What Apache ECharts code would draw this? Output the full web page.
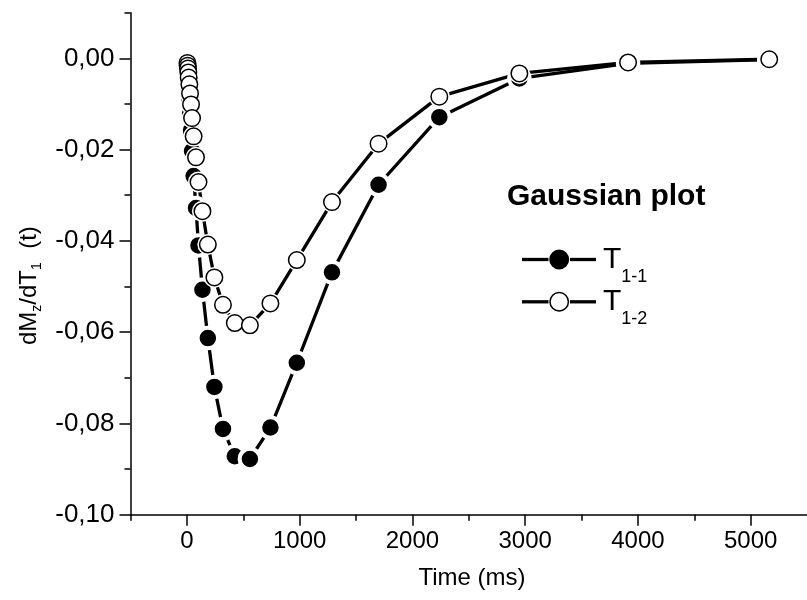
<!DOCTYPE html>
<html><head><meta charset="utf-8">
<script src="https://cdn.jsdelivr.net/npm/echarts@6/dist/echarts.min.js"></script>
<style>html,body{margin:0;padding:0;background:#fff}#c{width:807px;height:600px}</style>
</head><body><div id="c"></div>
<script>
// ---- data ----
const timeMs = [5, 7, 10, 13, 16, 22, 28, 37, 46, 60, 81, 103, 138, 186, 244, 320, 425, 559, 741, 975, 1287, 1700, 2239, 2949, 3913, 5165];
const t11 = [-0.0020, -0.0030, -0.0039, -0.0052, -0.0069, -0.0091, -0.0121, -0.0158, -0.0203, -0.0258, -0.0328, -0.0410, -0.0507, -0.0613, -0.0720, -0.0812, -0.0872, -0.0878, -0.0809, -0.0667, -0.0469, -0.0277, -0.0129, -0.0044, -0.0011, -0.0003];
const t12 = [-0.0010, -0.0016, -0.0022, -0.0031, -0.0042, -0.0057, -0.0077, -0.0101, -0.0131, -0.0171, -0.0217, -0.0271, -0.0335, -0.0408, -0.0480, -0.0540, -0.0580, -0.0585, -0.0537, -0.0442, -0.0315, -0.0187, -0.0084, -0.0033, -0.0009, -0.0002];
const xMajorTicks = [0, 1000, 2000, 3000, 4000, 5000];
const xMinorTicks = [-500, 500, 1500, 2500, 3500, 4500];
const yMajorTicks = [-0.10, -0.08, -0.06, -0.04, -0.02, 0.00];
const yMinorTicks = [-0.09, -0.07, -0.05, -0.03, -0.01, 0.01];
const legendTitle = 'Gaussian plot';
const xTitle = 'Time (ms)';

// ---- helpers ----
const FAMILY = "'Liberation Sans', Arial, sans-serif";
const cv = document.createElement('canvas').getContext('2d');
function W(text, size, weight) { cv.font = (weight || 'normal') + ' ' + size + 'px ' + FAMILY; return cv.measureText(text).width; }
function txt(text, x, baseline, size, weight, align) {
  return { type: 'text', x: x, y: baseline - 0.3465 * size, silent: true,
    style: { text: text, fill: '#000', fontSize: size, fontFamily: FAMILY, fontWeight: weight || 'normal',
      align: align || 'left', verticalAlign: 'middle', textAlign: align || 'left', textVerticalAlign: 'middle' } };
}
// pieces: [text, size, baselineShift]
function pieces(list, x0, baseline) {
  const out = []; let x = x0;
  list.forEach(p => { out.push(txt(p[0], x, baseline + p[2], p[1])); x += W(p[0], p[1]); });
  return out;
}
function fmtY(v) { const s = Math.abs(v) < 1e-9 ? '0.00' : v.toFixed(2); return s.replace('.', ','); }
function fmtX(v) { return String(Math.round(v)); }

const dataT11 = timeMs.map((t, i) => [t, t11[i]]);
const dataT12 = timeMs.map((t, i) => [t, t12[i]]);

const chart = echarts.init(document.getElementById('c'), null, { renderer: 'canvas' });

const X0 = -500, X1 = 5500, Y0 = -0.10, Y1 = 0.01;
const axisLine = { show: true, onZero: false, lineStyle: { color: '#000', width: 1.5 } };
const hiddenLine = { show: false, onZero: false };

// legend pieces
const legRows = [{ y: 259.5, filled: true, sub: '1-1' }, { y: 301.8, filled: false, sub: '1-2' }];
const legendEls = [];
legRows.forEach(r => {
  legendEls.push({ type: 'line', silent: true, shape: { x1: 522, y1: r.y, x2: 548.5, y2: r.y }, style: { stroke: '#000', lineWidth: 3.3 } });
  legendEls.push({ type: 'line', silent: true, shape: { x1: 570, y1: r.y, x2: 596, y2: r.y }, style: { stroke: '#000', lineWidth: 3.3 } });
  legendEls.push({ type: 'circle', silent: true, shape: { cx: 559.2, cy: r.y, r: 9.2 },
    style: { fill: r.filled ? '#000' : '#fff', stroke: '#000', lineWidth: 1.5 } });
  pieces([['T', 30, 0], [r.sub, 18, 13.3]], 603, r.y + 10.5).forEach(e => legendEls.push(e));
});
legendEls.push(txt(legendTitle, 507, 206.7, 30, 'bold'));

// y-axis title (rotated group)
const yTitleChildren = pieces([['dM', 24, 0], ['z', 14, 4.5], ['/dT', 24, 0], ['1', 14, 4.5], ['  (t)', 24, 0]], 0, 0);

const lineCommon = { type: 'line', xAxisIndex: 0, yAxisIndex: 0, symbol: 'none', silent: true, lineStyle: { color: '#000', width: 3.3 } };
const scatterCommon = { type: 'scatter', xAxisIndex: 0, yAxisIndex: 0, silent: true, symbol: 'circle' };

chart.setOption({
  animation: false,
  backgroundColor: '#fff',
  grid: { left: 130.5, top: 12.7, width: 685, height: 502, containLabel: false },
  xAxis: [
    { type: 'value', min: X0, max: X1, position: 'bottom', axisLine: axisLine,
      axisTick: { show: true, customValues: xMajorTicks, length: 11, lineStyle: { color: '#000', width: 1.5 } },
      axisLabel: { show: true, customValues: xMajorTicks, margin: 15, color: '#000', fontSize: 24, fontFamily: FAMILY, formatter: fmtX },
      splitLine: { show: false } },
    { type: 'value', min: X0, max: X1, position: 'bottom', offset: 0, axisLine: hiddenLine,
      axisTick: { show: true, customValues: xMinorTicks, length: 6, lineStyle: { color: '#000', width: 1.5 } },
      axisLabel: { show: false }, splitLine: { show: false } }
  ],
  yAxis: [
    { type: 'value', min: Y0, max: Y1, position: 'left', axisLine: axisLine,
      axisTick: { show: true, customValues: yMajorTicks, length: 11, lineStyle: { color: '#000', width: 1.5 } },
      axisLabel: { show: true, customValues: yMajorTicks, margin: 16, color: '#000', fontSize: 26, fontFamily: FAMILY, formatter: fmtY },
      splitLine: { show: false } },
    { type: 'value', min: Y0, max: Y1, position: 'left', offset: 0, axisLine: hiddenLine,
      axisTick: { show: true, customValues: yMinorTicks, length: 6, lineStyle: { color: '#000', width: 1.5 } },
      axisLabel: { show: false }, splitLine: { show: false } }
  ],
  series: [
    Object.assign({ name: 'T1-1', data: dataT11, z: 1 }, lineCommon),
    Object.assign({ name: 'T1-2', data: dataT12, z: 1 }, lineCommon),
    // filled markers with a white ring (gap between line and marker)
    Object.assign({ name: 'T1-1 markers', data: dataT11, z: 2, symbolSize: 20.5,
      itemStyle: { color: '#000', borderColor: '#fff', borderWidth: 4, opacity: 1 } }, scatterCommon),
    // white halo under open markers
    Object.assign({ name: 'T1-2 halo', data: dataT12, z: 3, symbolSize: 21,
      itemStyle: { color: '#fff', borderWidth: 0, opacity: 1 } }, scatterCommon),
    Object.assign({ name: 'T1-2 markers', data: dataT12, z: 4, symbolSize: 16.5,
      itemStyle: { color: '#fff', borderColor: '#000', borderWidth: 1.5, opacity: 1 } }, scatterCommon)
  ],
  graphic: [
    txt(xTitle, 472, 587, 24, 'normal', 'center'),
    { type: 'group', x: 37.5, y: 345, rotation: Math.PI / 2, silent: true, children: yTitleChildren },
    { type: 'group', silent: true, children: legendEls }
  ]
});
</script>
</body></html>
